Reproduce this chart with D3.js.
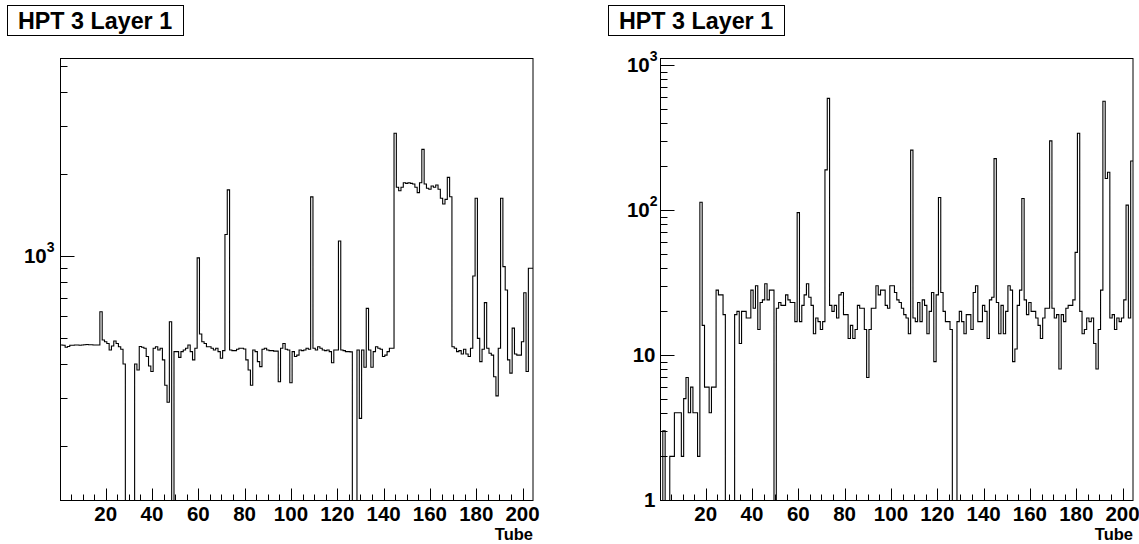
<!DOCTYPE html>
<html><head><meta charset="utf-8">
<script src="https://cdn.jsdelivr.net/npm/d3@7"></script>
<style>
html,body{margin:0;padding:0;background:#fff;}
svg{display:block;}
text{font-family:"Liberation Sans",Arial,Helvetica,sans-serif;font-weight:bold;fill:#000;}
</style></head>
<body>
<svg id="c" width="1139" height="544"></svg>
<script>
// ---- data ----
const tubes = d3.range(1, 205);
const leftCounts = [
471,470,462,465,470,470,471,471,470,471,
472,473,472,472,471,471,471,624,491,484,
477,451,467,487,477,464,454,401,0,0,
0,0,401,381,465,462,458,427,394,376,
458,464,451,458,415,335,290,573,0,445,
445,424,445,451,458,471,445,415,458,984,
517,484,477,464,464,458,451,458,445,421,
449,1200,1750,451,449,449,454,458,458,455,
415,381,335,451,445,409,392,454,458,451,
449,449,447,447,345,458,477,454,451,342,
445,427,432,451,449,451,458,454,1650,458,
451,464,458,451,449,451,445,405,451,451,
1135,451,449,445,445,444,0,0,451,253,
451,390,642,451,390,445,464,458,454,427,
432,445,458,458,2826,1789,1738,1789,1860,1850,
1860,1850,1840,1789,1710,1860,2466,1840,1774,1759,
1808,1789,1824,1759,1630,1553,1615,1946,1652,464,
458,445,449,436,454,436,427,458,844,1630,
498,409,454,674,458,439,432,360,306,458,
1630,914,750,415,371,543,436,432,432,484,
733,376,901,901];
const rightCounts = [
0,3,0,0,2,2,4,4,4,2,
5,7,4,6,4,4,2,113,16,6,
6,4,6,6,28,26,26,19,0,0,
0,0,19,20,12,20,20,18,18,28,
21,30,15,23,24,31,24,28,28,0,
21,23,22,22,26,24,23,23,17,96,
17,22,26,31,25,22,14,18,17,15,
17,189,589,22,20,22,18,26,27,19,
19,13,16,13,15,22,21,21,15,7,
15,21,21,30,26,28,28,22,21,30,
30,27,24,23,21,19,18,14,259,18,
17,23,17,24,22,14,20,27,9,26,
122,27,20,17,17,15,0,0,17,20,
17,14,19,19,15,27,30,17,17,22,
20,13,24,25,226,23,14,22,14,20,
30,28,9,11,22,28,120,24,19,23,
20,20,18,16,13,18,21,21,300,21,
18,19,8,19,17,21,22,22,24,51,
338,20,14,15,18,17,18,12,8,15,
28,562,165,182,18,19,15,18,17,18,
24,108,18,218];
const xTickValues = d3.range(5, 205, 5);
const xLabelValues = [20,40,60,80,100,120,140,160,180,200];
const titleText = "HPT 3 Layer 1";
const xAxisTitle = "Tube";

// ---- layout ----
const svg = d3.select("#c");
const panels = [
  {counts: leftCounts,  x0: 60.5,  x1: 533,  ydom: [126.2, 5323], box: [7.5, 5.5], supEnd: 54.5, plainEnd: 54.5},
  {counts: rightCounts, x0: 660.5, x1: 1133, ydom: [0.992, 1109], box: [608.5, 5.5], supEnd: 657.5, plainEnd: 655.5}
];
const yTop = 58.5, yBot = 500.5;

panels.forEach(p => {
  const g = svg.append("g");
  const x = d3.scaleLinear().domain([0.5, 204.5]).range([p.x0, p.x1]);
  const y = d3.scaleLog().domain(p.ydom).range([yBot, yTop]);

  // title box
  g.append("rect").attr("x", p.box[0]).attr("y", p.box[1]).attr("width", 176).attr("height", 30)
    .attr("fill", "#fff").attr("stroke", "#000").attr("stroke-width", 1);
  g.append("text").attr("x", p.box[0] + 10.5).attr("y", 29).attr("font-size", 23.3).text(titleText);

  // frame
  g.append("rect").attr("x", p.x0).attr("y", yTop).attr("width", p.x1 - p.x0).attr("height", yBot - yTop)
    .attr("fill", "none").attr("stroke", "#000").attr("stroke-width", 1);

  // histogram
  const yv = v => (v > p.ydom[0]) ? Math.max(y(v), yTop) : yBot;
  const pts = [];
  tubes.forEach((t, i) => {
    const v = p.counts[i];
    pts.push([x(t - 0.5), yv(v)]);
    pts.push([x(t + 0.5), yv(v)]);
  });
  g.append("path").attr("d", d3.line()(pts)).attr("fill", "none").attr("stroke", "#000").attr("stroke-width", 1.1);

  // x ticks
  xTickValues.forEach(v => {
    const major = v % 20 === 0;
    const xx = Math.round(x(v)) + 0.5;
    g.append("line").attr("x1", xx).attr("x2", xx).attr("y1", yBot).attr("y2", yBot - (major ? 12 : 6))
      .attr("stroke", "#000").attr("stroke-width", 1);
  });
  xLabelValues.forEach(v => {
    g.append("text").attr("x", x(v)).attr("y", 521).attr("text-anchor", "middle").attr("font-size", 20.5).text(v);
  });
  g.append("text").attr("x", p.x1).attr("y", 540).attr("text-anchor", "end").attr("font-size", 16.5).text(xAxisTitle);

  // y ticks
  y.ticks().forEach(v => {
    const lg = Math.log10(v);
    const major = Math.abs(lg - Math.round(lg)) < 1e-9;
    const yy = Math.round(y(v)) + 0.5;
    g.append("line").attr("x1", p.x0).attr("x2", p.x0 + (major ? 14 : 7)).attr("y1", yy).attr("y2", yy)
      .attr("stroke", "#000").attr("stroke-width", 1);
    if (major) {
      const e = Math.round(lg);
      const base = y(v) + 7.3;
      if (e === 0 || e === 1) {
        g.append("text").attr("x", p.plainEnd).attr("y", base).attr("text-anchor", "end")
          .attr("font-size", 20.5).text(e === 0 ? "1" : "10");
      } else {
        const t = g.append("text").attr("x", p.supEnd).attr("y", base).attr("text-anchor", "end").attr("font-size", 20.5);
        t.append("tspan").text("10");
        t.append("tspan").attr("font-size", 14).attr("dy", -11).text(e);
      }
    }
  });
});
</script>
</body></html>
